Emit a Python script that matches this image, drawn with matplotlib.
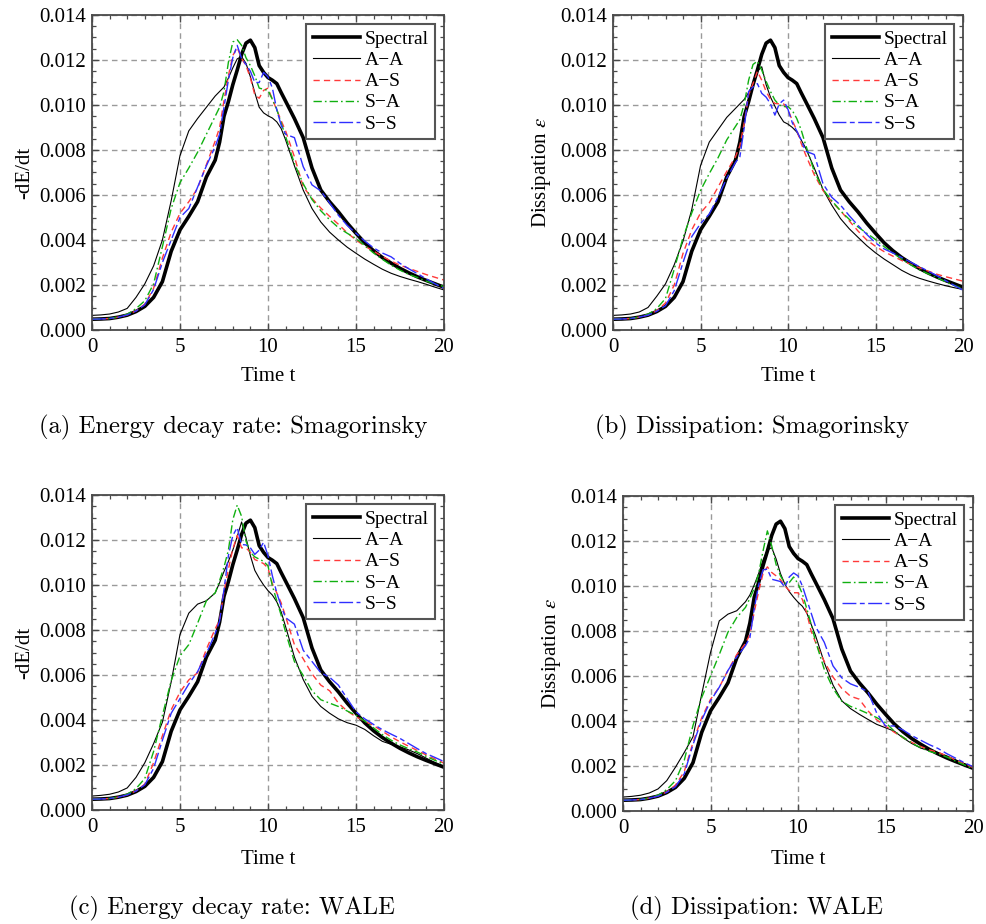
import numpy as np
import matplotlib
matplotlib.use("Agg")
import matplotlib.pyplot as plt
from matplotlib.ticker import MultipleLocator, FormatStrFormatter

# Time samples (common to every curve)
t = [0, 0.5, 1, 1.5, 2, 2.5, 3, 3.5, 4, 4.5, 5, 5.5, 6, 6.5, 7,
     7.25, 7.5, 7.75, 8, 8.25, 8.5, 8.75, 9, 9.25, 9.5, 9.75, 10, 10.25, 10.5, 10.75, 11,
     11.5, 12, 12.5, 13, 13.5, 14, 14.5, 15, 15.5, 16, 16.5, 17, 17.5, 18, 18.5, 19, 19.5, 20]

# All values below are in units of 1e-3
spectral = [0.48, 0.49, 0.51, 0.57, 0.66, 0.82, 1.05, 1.45, 2.15, 3.50, 4.45, 5.05, 5.70, 6.80, 7.55,
            8.35, 9.50, 10.15, 10.90, 11.55, 12.25, 12.75, 12.88, 12.55, 11.75, 11.45, 11.22, 11.10, 10.95, 10.55, 10.17,
            9.40, 8.55, 7.20, 6.22, 5.70, 5.25, 4.75, 4.30, 3.87, 3.52, 3.22, 2.97, 2.74, 2.54, 2.36, 2.20, 2.05, 1.90]

# (a) energy decay rate, Smagorinsky
aa_smag_rate = [0.65, 0.67, 0.71, 0.80, 0.96, 1.45, 2.05, 2.85, 4.00, 5.75, 7.75, 8.85, 9.40, 9.90, 10.40,
                10.60, 10.80, 11.20, 11.65, 12.05, 12.15, 11.85, 11.25, 10.55, 9.90, 9.65, 9.52, 9.42, 9.25, 8.95, 8.45,
                7.30, 6.22, 5.40, 4.80, 4.35, 4.00, 3.68, 3.41, 3.15, 2.92, 2.70, 2.52, 2.38, 2.26, 2.15, 2.03, 1.90, 1.78]
as_smag_rate = [0.48, 0.49, 0.51, 0.57, 0.67, 0.85, 1.15, 1.85, 3.20, 4.35, 5.19, 5.70, 6.30, 7.35, 8.40,
                9.00, 10.20, 11.30, 12.20, 12.55, 12.07, 11.75, 11.20, 10.45, 10.30, 10.65, 10.75, 10.25, 9.78, 9.30, 8.85,
                7.70, 6.37, 5.85, 5.42, 5.05, 4.70, 4.32, 4.00, 3.73, 3.50, 3.27, 3.06, 2.88, 2.74, 2.60, 2.46, 2.34, 2.22]
sa_smag_rate = [0.48, 0.49, 0.51, 0.58, 0.70, 0.95, 1.30, 2.05, 3.70, 5.40, 6.55, 7.20, 7.90, 8.70, 9.50,
                9.90, 10.60, 11.90, 12.80, 12.90, 12.65, 12.10, 11.75, 11.30, 10.75, 10.70, 10.65, 10.25, 9.80, 9.20, 8.60,
                7.40, 6.50, 5.80, 5.30, 4.90, 4.55, 4.30, 4.07, 3.75, 3.42, 3.14, 2.88, 2.66, 2.47, 2.33, 2.17, 2.05, 1.93]
ss_smag_rate = [0.48, 0.49, 0.51, 0.57, 0.67, 0.84, 1.12, 1.80, 3.00, 4.00, 5.00, 5.40, 6.35, 7.30, 8.15,
                8.70, 9.90, 11.11, 12.10, 12.65, 12.07, 11.80, 11.50, 11.00, 11.00, 11.45, 11.25, 10.75, 9.78, 9.10, 8.70,
                8.55, 7.26, 6.45, 6.18, 5.65, 5.10, 4.65, 4.30, 3.95, 3.65, 3.42, 3.25, 2.96, 2.72, 2.50, 2.27, 2.05, 1.85]

# (b) dissipation, Smagorinsky
aa_smag_diss = [0.65, 0.67, 0.71, 0.80, 1.00, 1.50, 2.05, 2.90, 3.95, 5.35, 7.30, 8.35, 8.90, 9.45, 9.85,
                10.05, 10.25, 10.55, 10.95, 11.50, 11.70, 10.90, 10.35, 9.95, 9.55, 9.25, 9.15, 9.00, 8.80, 8.45, 8.10,
                7.20, 6.25, 5.55, 4.95, 4.50, 4.12, 3.75, 3.43, 3.15, 2.90, 2.65, 2.45, 2.30, 2.18, 2.07, 1.97, 1.88, 1.80]
as_smag_diss = [0.48, 0.49, 0.51, 0.57, 0.67, 0.86, 1.20, 2.00, 3.40, 4.45, 5.20, 5.65, 6.35, 7.05, 7.70,
                8.20, 9.20, 10.45, 10.95, 11.50, 11.10, 10.60, 10.25, 10.07, 10.05, 10.05, 9.80, 9.30, 8.88, 8.30, 7.80,
                6.90, 6.20, 5.70, 5.30, 4.85, 4.40, 4.00, 3.72, 3.48, 3.28, 3.09, 2.92, 2.77, 2.62, 2.48, 2.37, 2.27, 2.17]
sa_smag_diss = [0.48, 0.49, 0.51, 0.58, 0.70, 0.95, 1.40, 2.70, 4.10, 5.20, 6.20, 6.95, 7.65, 8.45, 9.05,
                9.35, 10.05, 11.10, 11.80, 11.95, 11.55, 11.05, 10.60, 10.22, 10.00, 9.93, 9.93, 9.75, 9.40, 8.90, 8.25,
                7.05, 6.25, 5.75, 5.30, 4.92, 4.58, 4.30, 4.02, 3.70, 3.42, 3.15, 2.90, 2.68, 2.50, 2.33, 2.15, 1.98, 1.83]
ss_smag_diss = [0.48, 0.49, 0.51, 0.57, 0.66, 0.83, 1.08, 1.75, 3.00, 4.15, 4.73, 5.15, 5.90, 6.75, 7.45,
                7.70, 9.00, 10.60, 10.80, 10.95, 10.52, 10.35, 10.05, 9.55, 10.05, 10.22, 9.80, 9.20, 8.85, 8.45, 7.95,
                7.80, 6.50, 5.90, 5.55, 5.08, 4.65, 4.25, 3.87, 3.60, 3.42, 3.22, 3.02, 2.82, 2.62, 2.42, 2.20, 1.98, 1.77]

# (c) energy decay rate, WALE
aa_wale_rate = [0.62, 0.65, 0.70, 0.80, 0.98, 1.45, 2.10, 2.95, 3.90, 5.70, 7.80, 8.75, 9.15, 9.30, 9.65,
                10.10, 10.60, 11.05, 11.55, 12.15, 12.80, 12.10, 11.30, 10.65, 10.30, 10.00, 9.75, 9.55, 9.25, 8.80, 8.15,
                6.80, 5.80, 5.05, 4.60, 4.30, 4.05, 3.88, 3.77, 3.58, 3.30, 3.05, 2.92, 2.81, 2.67, 2.50, 2.30, 2.10, 1.93]
as_wale_rate = [0.48, 0.49, 0.51, 0.57, 0.67, 0.85, 1.15, 2.10, 3.30, 4.45, 5.24, 5.78, 6.10, 7.15, 8.05,
                8.45, 9.70, 10.70, 11.60, 12.20, 11.65, 11.65, 11.45, 11.13, 11.05, 10.95, 10.75, 10.05, 9.65, 9.20, 8.60,
                7.35, 6.72, 6.05, 5.55, 5.30, 4.75, 4.40, 4.14, 3.95, 3.75, 3.50, 3.25, 3.03, 2.83, 2.64, 2.44, 2.26, 2.08]
sa_wale_rate = [0.48, 0.49, 0.51, 0.58, 0.70, 0.95, 1.40, 2.60, 4.20, 5.75, 6.85, 7.35, 8.30, 9.30, 9.65,
                10.20, 10.80, 11.55, 12.90, 13.55, 13.05, 11.95, 11.45, 11.25, 11.15, 11.05, 10.85, 9.95, 9.30, 8.65, 7.90,
                6.60, 5.98, 5.30, 4.90, 4.75, 4.60, 4.40, 4.21, 3.95, 3.65, 3.35, 3.10, 2.89, 2.72, 2.57, 2.38, 2.20, 2.03]
ss_wale_rate = [0.48, 0.49, 0.51, 0.57, 0.67, 0.84, 1.12, 1.85, 3.10, 4.30, 4.95, 5.60, 6.15, 6.95, 7.85,
                8.40, 9.80, 11.30, 12.20, 12.55, 11.80, 11.78, 11.65, 11.36, 11.55, 11.90, 11.30, 10.40, 9.65, 9.05, 8.55,
                8.26, 7.10, 6.60, 6.10, 5.90, 5.55, 4.95, 4.36, 4.05, 3.80, 3.57, 3.37, 3.18, 2.95, 2.72, 2.50, 2.33, 2.15]

# (d) dissipation, WALE
aa_wale_diss = [0.62, 0.65, 0.70, 0.80, 0.98, 1.35, 1.95, 2.60, 3.30, 5.20, 7.04, 8.45, 8.75, 8.90, 9.30,
                9.60, 10.05, 10.55, 11.15, 11.60, 11.70, 11.20, 10.55, 10.08, 9.75, 9.50, 9.28, 9.10, 8.80, 8.30, 7.80,
                6.60, 5.60, 4.90, 4.55, 4.30, 4.07, 3.85, 3.70, 3.55, 3.25, 3.00, 2.80, 2.68, 2.60, 2.45, 2.28, 2.10, 1.93]
as_wale_diss = [0.48, 0.49, 0.51, 0.57, 0.67, 0.85, 1.15, 1.75, 3.05, 4.15, 4.96, 5.50, 6.25, 6.95, 7.45,
                7.85, 8.85, 9.75, 10.55, 10.85, 10.60, 10.45, 10.28, 10.00, 9.80, 9.70, 9.70, 9.40, 8.80, 8.00, 7.50,
                6.65, 5.95, 5.45, 5.10, 4.97, 4.45, 4.05, 3.78, 3.50, 3.27, 3.05, 2.87, 2.72, 2.61, 2.45, 2.27, 2.10, 1.93]
sa_wale_diss = [0.48, 0.49, 0.51, 0.58, 0.70, 0.95, 1.35, 2.25, 3.80, 5.05, 6.00, 6.95, 7.95, 8.60, 9.05,
                9.45, 9.90, 10.55, 11.55, 12.45, 11.78, 10.95, 10.45, 10.12, 10.15, 10.40, 10.10, 9.65, 9.00, 8.30, 7.55,
                6.30, 5.45, 4.88, 4.65, 4.50, 4.33, 4.15, 3.93, 3.55, 3.28, 3.02, 2.82, 2.65, 2.54, 2.40, 2.22, 2.05, 1.88]
ss_wale_diss = [0.48, 0.49, 0.51, 0.57, 0.66, 0.83, 1.08, 1.65, 2.95, 4.05, 4.89, 5.50, 6.25, 6.85, 7.35,
                7.70, 9.00, 10.05, 10.72, 10.75, 10.30, 10.25, 10.20, 9.95, 10.40, 10.58, 10.45, 10.00, 9.40, 8.80, 8.20,
                7.50, 6.45, 5.92, 5.65, 5.50, 5.30, 4.35, 3.78, 3.78, 3.60, 3.35, 3.15, 2.95, 2.78, 2.55, 2.35, 2.15, 1.97]

series_labels = ["Spectral", "A\u2212A", "A\u2212S", "S\u2212A", "S\u2212S"]
y_labels = ["-dE/dt", "Dissipation $\\epsilon$", "-dE/dt", "Dissipation $\\epsilon$"]
captions = ["(a) Energy decay rate: Smagorinsky", "(b) Dissipation: Smagorinsky",
            "(c) Energy decay rate: WALE", "(d) Dissipation: WALE"]

panel_data = [
    [spectral, aa_smag_rate, as_smag_rate, sa_smag_rate, ss_smag_rate],
    [spectral, aa_smag_diss, as_smag_diss, sa_smag_diss, ss_smag_diss],
    [spectral, aa_wale_rate, as_wale_rate, sa_wale_rate, ss_wale_rate],
    [spectral, aa_wale_diss, as_wale_diss, sa_wale_diss, ss_wale_diss],
]

line_styles = [
    dict(color="black", lw=2.6, ls="-"),
    dict(color="black", lw=0.8, ls="-"),
    dict(color="#ff3a3a", lw=1.0, ls=(0, (4.5, 3))),
    dict(color="#10b010", lw=1.0, ls=(0, (6, 2.2, 1.2, 2.2))),
    dict(color="#2f2fff", lw=1.0, ls=(0, (10, 2.5, 3.5, 2.5))),
]

plt.rcParams.update({
    "font.family": ["Liberation Serif", "DejaVu Serif"],
    "mathtext.fontset": "stix",
    "axes.edgecolor": "#4a4a4a",
    "axes.linewidth": 1.3,
    "xtick.direction": "in",
    "ytick.direction": "in",
    "xtick.top": True,
    "ytick.right": True,
    "xtick.color": "#4a4a4a",
    "ytick.color": "#4a4a4a",
    "xtick.labelcolor": "black",
    "ytick.labelcolor": "black",
    "xtick.major.size": 5,
    "ytick.major.size": 5,
    "xtick.minor.size": 3,
    "ytick.minor.size": 3,
    "xtick.major.width": 1.0,
    "ytick.major.width": 1.0,
    "xtick.minor.width": 0.9,
    "ytick.minor.width": 0.9,
})

W, H = 987, 924
fig = plt.figure(figsize=(W / 100, H / 100), dpi=100)

# axes boxes in pixels: left, top, right, bottom
boxes = [(92, 15, 444, 330), (613, 15, 963, 330),
         (92, 495, 444, 810), (623, 496, 973, 811)]
ylabel_x = [25, 542, 25, 552]
caption_pos = [(233, 427), (752, 427), (232, 908), (756, 908)]
xlabel_y = [377, 377, 859, 859]

tt = np.array(t)
for i, (l, tp, r, b) in enumerate(boxes):
    ax = fig.add_axes([l / W, (H - b) / H, (r - l) / W, (b - tp) / H])
    for vals, lab, st in zip(panel_data[i], series_labels, line_styles):
        ax.plot(tt, np.array(vals) * 1e-3, label=lab, **st)
    ax.set_xlim(0, 20)
    ax.set_ylim(0, 0.014)
    ax.xaxis.set_major_locator(MultipleLocator(5))
    ax.xaxis.set_minor_locator(MultipleLocator(1))
    ax.yaxis.set_major_locator(MultipleLocator(0.002))
    ax.yaxis.set_minor_locator(MultipleLocator(0.0005))
    ax.yaxis.set_major_formatter(FormatStrFormatter("%.3f"))
    ax.tick_params(axis="x", labelsize=15, pad=6)
    ax.tick_params(axis="y", labelsize=15, pad=4)
    ax.grid(True, which="major", color="#9a9a9a", lw=1.0, ls=(0, (4, 3)))
    ax.set_axisbelow(True)

    fig.text(ylabel_x[i] / W, 1 - (tp + b) / 2 / H, y_labels[i], rotation=90,
             ha="center", va="center", fontsize=15)
    fig.text((l + r) / 2 / W, 1 - xlabel_y[i] / H, "Time t",
             ha="center", va="center", fontsize=15)

    leg = ax.legend(loc="upper right", fontsize=14, frameon=True, fancybox=False,
                    edgecolor="#555555", framealpha=1, handlelength=2.4,
                    handletextpad=0.25, labelspacing=0.18, borderpad=0.35,
                    borderaxespad=0.45)
    leg.get_frame().set_linewidth(1.5)

    cx, cy = caption_pos[i]
    fig.text(cx / W, 1 - cy / H, captions[i], ha="center", va="center",
             fontsize=17.8, family="cmr10")

fig.savefig("out.png", dpi=100)
